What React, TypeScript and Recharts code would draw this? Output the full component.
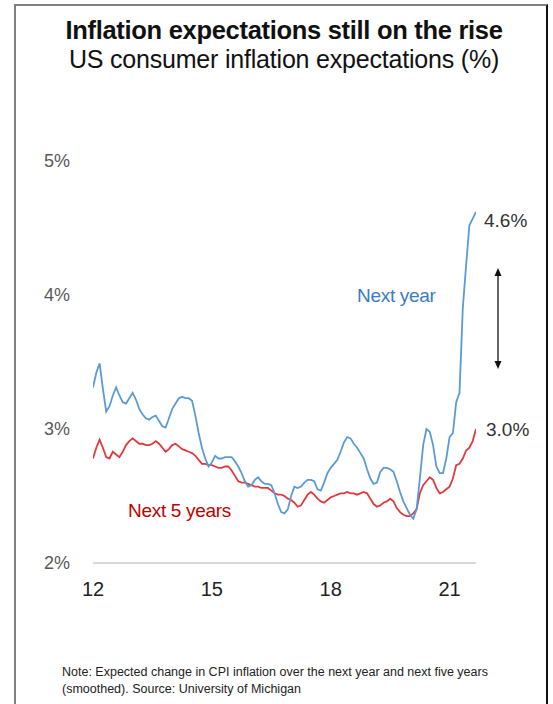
import React from 'react';
import { LineChart, Line, XAxis, YAxis, ReferenceDot } from 'recharts';

const startYear = 2012;
const nextYear = [
  3.31, 3.42, 3.49, 3.30, 3.13, 3.17, 3.25, 3.31, 3.25, 3.20, 3.19, 3.23,
  3.27, 3.22, 3.15, 3.11, 3.08, 3.07, 3.09, 3.10, 3.06, 3.02, 3.01, 3.08,
  3.15, 3.19, 3.23, 3.24, 3.23, 3.23, 3.21, 3.10, 2.97, 2.86, 2.78, 2.72,
  2.75, 2.80, 2.78, 2.78, 2.79, 2.79, 2.79, 2.76, 2.72, 2.67, 2.61, 2.57,
  2.58, 2.62, 2.64, 2.61, 2.59, 2.59, 2.58, 2.52, 2.44, 2.38, 2.37, 2.40,
  2.50, 2.57, 2.56, 2.57, 2.60, 2.62, 2.62, 2.61, 2.55, 2.54, 2.60, 2.67,
  2.71, 2.74, 2.77, 2.83, 2.90, 2.94, 2.93, 2.89, 2.86, 2.82, 2.78, 2.70,
  2.63, 2.59, 2.60, 2.68, 2.71, 2.71, 2.70, 2.68, 2.61, 2.53, 2.46, 2.41,
  2.36, 2.33, 2.40, 2.63, 2.88, 3.00, 2.98, 2.88, 2.72, 2.67, 2.67, 2.78,
  2.94, 2.97, 3.20, 3.27, 3.90, 4.22, 4.52, 4.57, 4.62,
];
const next5Years = [
  2.78, 2.86, 2.92, 2.86, 2.79, 2.78, 2.83, 2.81, 2.79, 2.83, 2.88, 2.91,
  2.93, 2.91, 2.89, 2.89, 2.88, 2.88, 2.89, 2.91, 2.89, 2.86, 2.83, 2.85,
  2.88, 2.89, 2.87, 2.85, 2.84, 2.83, 2.82, 2.80, 2.77, 2.74, 2.74, 2.73,
  2.73, 2.72, 2.71, 2.71, 2.72, 2.72, 2.69, 2.65, 2.61, 2.60, 2.60, 2.59,
  2.58, 2.57, 2.57, 2.56, 2.56, 2.56, 2.54, 2.52, 2.51, 2.51, 2.50, 2.48,
  2.47, 2.45, 2.42, 2.43, 2.47, 2.51, 2.53, 2.51, 2.48, 2.46, 2.45, 2.47,
  2.49, 2.50, 2.51, 2.52, 2.52, 2.53, 2.52, 2.52, 2.51, 2.52, 2.53, 2.52,
  2.48, 2.44, 2.42, 2.43, 2.45, 2.46, 2.48, 2.46, 2.41, 2.38, 2.36, 2.35,
  2.35, 2.37, 2.40, 2.52, 2.58, 2.61, 2.64, 2.62, 2.56, 2.52, 2.53, 2.55,
  2.57, 2.63, 2.73, 2.74, 2.78, 2.84, 2.86, 2.91, 3.00,
];
const xTicks = [2012, 2015, 2018, 2021];
const yTicks = [2, 3, 4, 5];
const lastNextYearLabel = '4.6%';
const lastNext5Label = '3.0%';

const data = nextYear.map((v, i) => ({
  t: startYear + i / 12,
  nextYear: v,
  next5: next5Years[i],
}));
const last = data[data.length - 1];

const FONT = '"Liberation Sans", Arial, sans-serif';
const BLUE = '#5b9bd5';
const RED = '#e0393e';

export default function App() {
  return (
    <div style={{ position: 'absolute', left: 0, top: 0, width: 553, height: 704, background: '#fff', fontFamily: FONT, overflow: 'hidden' }}>
      <div style={{ position: 'absolute', left: 14, top: 4, width: 530, height: 720, borderLeft: '2px solid #7f7f7f', borderTop: '2px solid #7f7f7f', borderRight: '2px solid #111' }} />
      <div style={{ position: 'absolute', left: 0, width: 568, top: 16, textAlign: 'center', fontSize: 25.5, fontWeight: 'bold', color: '#111', letterSpacing: -0.3, whiteSpace: 'nowrap' }}>
        Inflation expectations still on the rise
      </div>
      <div style={{ position: 'absolute', left: 0, width: 568, top: 45, textAlign: 'center', fontSize: 25, color: '#111', letterSpacing: -0.2, whiteSpace: 'nowrap' }}>
        US consumer inflation expectations (%)
      </div>
      <div style={{ position: 'absolute', left: 0, top: 0 }}>
        <LineChart width={553} height={704} data={data} margin={{ top: 161, right: 77, bottom: 111, left: 43 }}>
          <XAxis
            dataKey="t"
            type="number"
            domain={[2012, startYear + (nextYear.length - 1) / 12]}
            ticks={xTicks}
            tickFormatter={(v: number) => String(v).slice(2)}
            axisLine={{ stroke: '#d9d9d9', strokeWidth: 2 }}
            tickLine={false}
            tick={{ fill: '#222', fontSize: 20, fontFamily: FONT }}
            tickMargin={13}
            height={30}
            allowDataOverflow
          />
          <YAxis
            type="number"
            domain={[2, 5]}
            ticks={yTicks}
            tickFormatter={(v: number) => `${v}%`}
            axisLine={false}
            tickLine={false}
            tick={{ fill: '#595959', fontSize: 18, fontFamily: FONT }}
            tickMargin={17}
            width={50}
          />
          <Line dataKey="next5" stroke={RED} strokeWidth={1.8} dot={false} isAnimationActive={false} />
          <Line dataKey="nextYear" stroke={BLUE} strokeWidth={1.8} dot={false} isAnimationActive={false} />
          <ReferenceDot x={last.t} y={last.nextYear} r={0} fill="none" stroke="none" ifOverflow="visible"
            label={{ value: lastNextYearLabel, position: 'right', offset: 8, dy: 8, fill: '#333', fontSize: 19, fontFamily: FONT }} />
          <ReferenceDot x={last.t} y={last.next5} r={0} fill="none" stroke="none" ifOverflow="visible"
            label={{ value: lastNext5Label, position: 'right', offset: 10, fill: '#333', fontSize: 19, fontFamily: FONT }} />
        </LineChart>
      </div>
      <div style={{ position: 'absolute', left: 357, top: 285, fontSize: 19, color: '#3a7cc4', letterSpacing: -0.3 }}>Next year</div>
      <div style={{ position: 'absolute', left: 128, top: 500, fontSize: 19, color: '#c00000', letterSpacing: -0.3 }}>Next 5 years</div>
      <svg style={{ position: 'absolute', left: 0, top: 0 }} width={553} height={704}>
        <line x1={498} y1={275} x2={498} y2={362} stroke="#111" strokeWidth={1.3} />
        <polygon points="498,268 494.5,276 501.5,276" fill="#111" />
        <polygon points="498,369 494.5,361 501.5,361" fill="#111" />
      </svg>
      <div style={{ position: 'absolute', left: 62, top: 664, fontSize: 12.5, color: '#222', lineHeight: '17px', whiteSpace: 'nowrap' }}>
        Note: Expected change in CPI inflation over the next year and next five years<br />
        (smoothed). Source: University of Michigan
      </div>
    </div>
  );
}
